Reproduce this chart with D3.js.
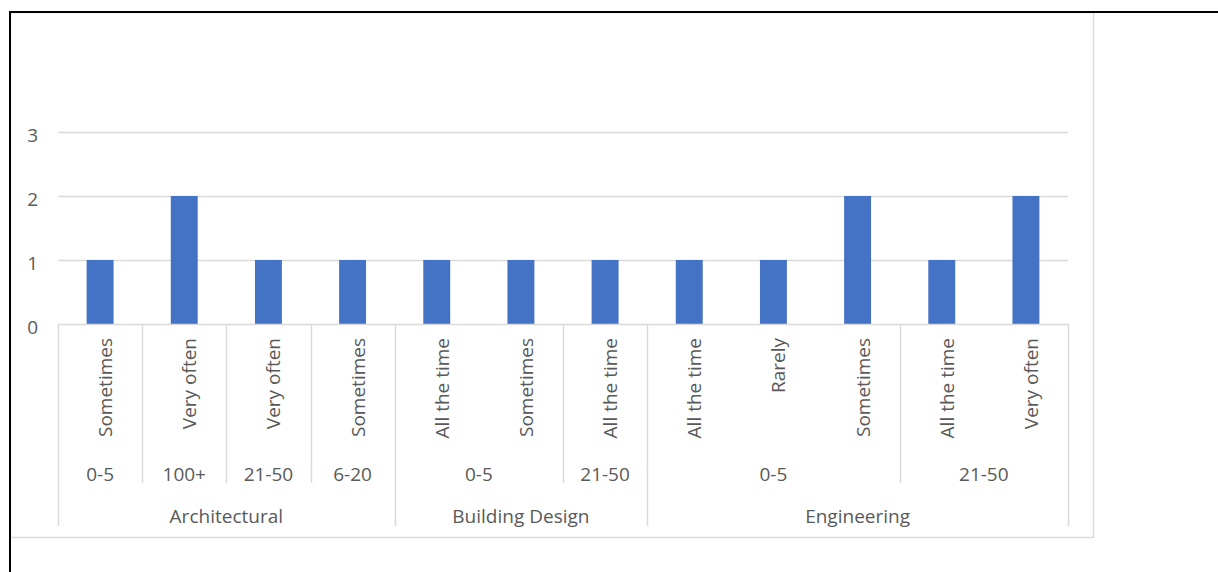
<!DOCTYPE html>
<html>
<head>
<meta charset="utf-8">
<script src="https://cdn.jsdelivr.net/npm/d3@7"></script>
<style>
  html, body { margin: 0; padding: 0; background: #fff; }
  svg { display: block; }
  text { font-family: "Open Sans", "Noto Sans", sans-serif; fill: #595959; }
</style>
</head>
<body>
<svg id="chart" width="1218" height="572"></svg>
<script>
// ---- data ----
const categories = ["Sometimes", "Very often", "Very often", "Sometimes",
                    "All the time", "Sometimes", "All the time",
                    "All the time", "Rarely", "Sometimes", "All the time", "Very often"];
const sizes = ["0-5", "100+", "21-50", "6-20",
               "0-5", "0-5", "21-50",
               "0-5", "0-5", "0-5", "21-50", "21-50"];
const sectors = ["Architectural", "Architectural", "Architectural", "Architectural",
                 "Building Design", "Building Design", "Building Design",
                 "Engineering", "Engineering", "Engineering", "Engineering", "Engineering"];
const values = [1, 2, 1, 1, 1, 1, 1, 1, 1, 2, 1, 2];
const yTicks = [0, 1, 2, 3];

// ---- layout ----
const svg = d3.select("#chart");
const plotLeft = 58, plotRight = 1068, plotTop = 132, plotBottom = 324;
const grey = "#d9d9d9";
const fontSize = 19;

const idx = d3.range(categories.length);
const x = d3.scaleBand().domain(idx).range([plotLeft, plotRight])
  .paddingInner(0.68).paddingOuter(0.34);
const step = x.step();
const bandStart = i => plotLeft + i * step;
const y = d3.scaleLinear().domain([0, 3]).range([plotBottom, plotTop]);

// outer frame (black) and chart border (grey)
svg.append("rect").attr("x", 10.5).attr("y", 12.5).attr("width", 1083).attr("height", 525)
  .attr("fill", "none").attr("stroke", grey).attr("stroke-width", 1.5);
svg.append("line").attr("x1", 9).attr("x2", 1218).attr("y1", 12).attr("y2", 12)
  .attr("stroke", "#000").attr("stroke-width", 2);
svg.append("line").attr("x1", 10).attr("x2", 10).attr("y1", 11).attr("y2", 572)
  .attr("stroke", "#000").attr("stroke-width", 2);

// gridlines
svg.append("g").selectAll("line").data(yTicks.filter(d => d > 0)).join("line")
  .attr("x1", plotLeft).attr("x2", plotRight)
  .attr("y1", d => Math.round(y(d)) + 0.5).attr("y2", d => Math.round(y(d)) + 0.5)
  .attr("stroke", grey).attr("stroke-width", 1.5);

// y tick labels
svg.append("g").selectAll("text").data(yTicks).join("text")
  .attr("x", 38).attr("y", d => y(d) + 3).attr("dy", "0.38em")
  .attr("text-anchor", "end").attr("font-size", fontSize)
  .text(d => d);

// bars
svg.append("g").selectAll("rect").data(idx).join("rect")
  .attr("x", i => x(i)).attr("width", x.bandwidth())
  .attr("y", i => y(values[i])).attr("height", i => y(0) - y(values[i]))
  .attr("fill", "#4472c4");

// axis line
svg.append("line").attr("x1", plotLeft).attr("x2", plotRight)
  .attr("y1", plotBottom + 0.5).attr("y2", plotBottom + 0.5)
  .attr("stroke", grey).attr("stroke-width", 1.5);

// category separators
const bounds = d3.range(categories.length + 1);
const sepG = svg.append("g");
bounds.forEach(b => {
  let yEnd = null;
  if (b === 0 || b === categories.length || sectors[b] !== sectors[b - 1]) yEnd = 526;
  else if (sizes[b] !== sizes[b - 1]) yEnd = 483;
  if (yEnd !== null) {
    const xx = Math.round(bandStart(b)) + 0.5;
    sepG.append("line").attr("x1", xx).attr("x2", xx)
      .attr("y1", plotBottom).attr("y2", yEnd)
      .attr("stroke", grey).attr("stroke-width", 1.5);
  }
});

// level 1 labels (rotated)
svg.append("g").selectAll("text").data(idx).join("text")
  .attr("transform", i => `translate(${x(i) + x.bandwidth() / 2},338) rotate(-90)`)
  .attr("dy", 12)
  .attr("text-anchor", "end").attr("font-size", fontSize)
  .text(i => categories[i]);

// level 2 labels (size groups)
const sizeGroups = [];
idx.forEach(i => {
  const last = sizeGroups[sizeGroups.length - 1];
  if (last && last.size === sizes[i] && last.sector === sectors[i]) last.end = i;
  else sizeGroups.push({size: sizes[i], sector: sectors[i], start: i, end: i});
});
svg.append("g").selectAll("text").data(sizeGroups).join("text")
  .attr("x", d => (bandStart(d.start) + bandStart(d.end + 1)) / 2)
  .attr("y", 481).attr("text-anchor", "middle").attr("font-size", fontSize)
  .text(d => d.size);

// level 3 labels (sectors)
const sectorGroups = [];
idx.forEach(i => {
  const last = sectorGroups[sectorGroups.length - 1];
  if (last && last.sector === sectors[i]) last.end = i;
  else sectorGroups.push({sector: sectors[i], start: i, end: i});
});
svg.append("g").selectAll("text").data(sectorGroups).join("text")
  .attr("x", d => (bandStart(d.start) + bandStart(d.end + 1)) / 2)
  .attr("y", 523).attr("text-anchor", "middle").attr("font-size", fontSize)
  .text(d => d.sector);
</script>
</body>
</html>
